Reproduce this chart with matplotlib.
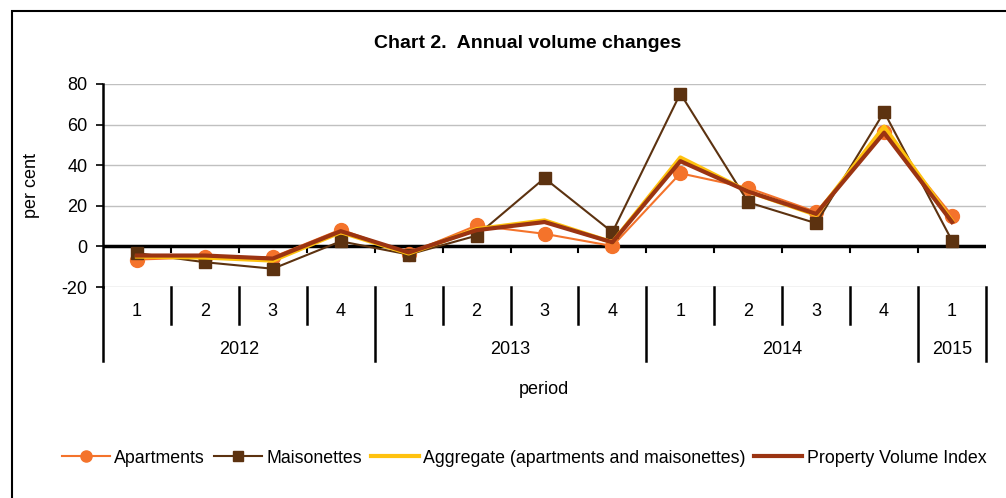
import numpy as np
import matplotlib.pyplot as plt
import matplotlib.transforms as mtransforms
from matplotlib.patches import Rectangle

plt.rcParams['font.family'] = ['Liberation Sans', 'DejaVu Sans']
plt.rcParams['axes.unicode_minus'] = False

quarters = ['1', '2', '3', '4', '1', '2', '3', '4', '1', '2', '3', '4', '1']
years = ['2012', '2013', '2014', '2015']
year_sizes = [4, 4, 4, 1]

apartments = [-6.5, -5.3, -5.3, 8.3, -3.5, 10.3, 6.2, 0.2, 36.0, 28.8, 17.0, 56.6, 15.2]
maisonettes = [-3.3, -7.8, -11.0, 2.5, -4.0, 5.3, 33.6, 7.0, 75.3, 21.7, 11.4, 66.2, 2.8]
aggregate = [-5.0, -5.5, -7.0, 7.0, -3.5, 8.5, 12.8, 2.0, 43.8, 27.0, 15.5, 59.0, 12.5]
pvi = [-4.5, -4.5, -6.0, 7.5, -3.0, 8.0, 12.0, 2.0, 42.0, 27.0, 16.0, 56.0, 12.0]

fig = plt.figure(figsize=(10.06, 4.98), dpi=100)
ax = fig.add_axes([103 / 1006, 1 - 287 / 498, (986 - 103) / 1006, (287 - 84) / 498])

x = np.arange(len(quarters))
ax.plot(x, apartments, '-o', color='#F4732B', lw=1.5, ms=10, label='Apartments', zorder=3)
ax.plot(x, maisonettes, '-s', color='#5C3210', lw=1.5, ms=9, label='Maisonettes', zorder=3)
ax.plot(x, aggregate, '-', color='#FFC20E', lw=3, label='Aggregate (apartments and maisonettes)', zorder=4)
ax.plot(x, pvi, '-', color='#9B3412', lw=3, label='Property Volume Index', zorder=5)

ax.set_xlim(-0.5, len(quarters) - 0.5)
ax.set_ylim(-20, 80)
ax.set_yticks(np.arange(-20, 81, 20))
ax.tick_params(axis='y', labelsize=13, length=5, width=1.2, pad=6)
ax.set_xticks([])
for v in np.arange(-20, 81, 20):
    if v != 0:
        ax.axhline(v, color='#C0C0C0', lw=1, zorder=1)
ax.axhline(0, color='black', lw=2.5, zorder=2)
for b in np.arange(0.5, len(quarters) - 0.5, 1.0):
    ax.plot([b, b], [0, -3], color='black', lw=1.5, zorder=2)

for s in ['top', 'right', 'bottom']:
    ax.spines[s].set_visible(False)
ax.spines['left'].set_linewidth(1.8)
ax.spines['left'].set_bounds(-20, 80)

# category hierarchy below the axis
trans = mtransforms.blended_transform_factory(ax.transData, ax.transAxes)
ax.plot([-0.5, -0.5], [0, -0.3645], color='black', lw=1.8, transform=trans, clip_on=False)
for i, q in enumerate(quarters):
    ax.text(i, -0.123, q, transform=trans, ha='center', va='center', fontsize=13)
start = 0
for y, n in zip(years, year_sizes):
    for b in range(start, start + n - 1):
        ax.plot([b + 0.5, b + 0.5], [0, -0.182], color='black', lw=1.8, transform=trans, clip_on=False)
    end = start + n - 0.5
    ax.plot([end, end], [0, -0.3645], color='black', lw=1.8, transform=trans, clip_on=False)
    ax.text(start + (n - 1) / 2, -0.31, y, transform=trans, ha='center', va='center', fontsize=13)
    start += n

ax.set_ylabel('per cent', fontsize=13)
ax.yaxis.set_label_coords(-0.071, 0.5)
fig.text(544 / 1006, 1 - 390 / 498, 'period', ha='center', va='center', fontsize=13)
fig.text(528 / 1006, 1 - 44 / 498, 'Chart 2.  Annual volume changes', ha='center', va='center',
         fontsize=14, fontweight='bold')

fig.legend(loc='center', bbox_to_anchor=(524 / 1006, 1 - 458 / 498), ncol=4, frameon=False,
           fontsize=12.8, handlelength=2.7, handletextpad=0.25, columnspacing=0.5, markerscale=0.8,
           borderpad=0.1, borderaxespad=0)

fig.patches.append(Rectangle((12 / 1006, -0.1), 1.2, 1 - 11 / 498 + 0.1, transform=fig.transFigure,
                             fill=False, edgecolor='black', lw=1.5))

fig.savefig('out.png', dpi=100)
